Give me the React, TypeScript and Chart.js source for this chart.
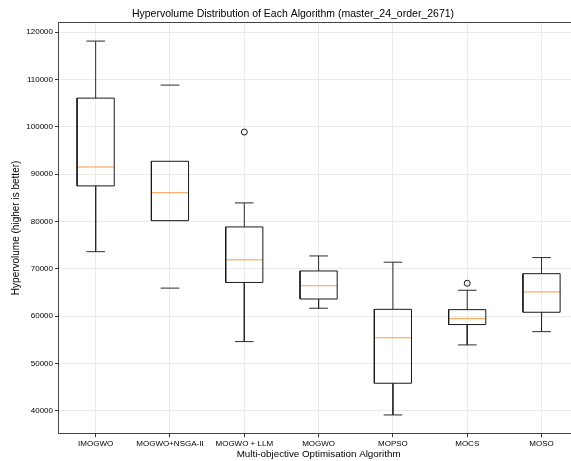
import React, { useEffect, useRef } from "react";
import { Chart, registerables } from "chart.js";

Chart.register(...registerables);

const categories = ["IMOGWO", "MOGWO+NSGA-II", "MOGWO + LLM", "MOGWO", "MOPSO", "MOCS", "MOSO"];
const whiskerLow = [73600, 65900, 54600, 61650, 39100, 53900, 56700];
const q1Values = [87500, 80150, 67100, 63600, 45800, 58200, 60800];
const medianValues = [91500, 86050, 71880, 66400, 55400, 59450, 65100];
const q3Values = [106050, 92700, 78830, 69530, 61420, 61350, 68950];
const whiskerHigh = [118100, 108800, 83910, 72700, 71380, 65450, 72350];
const showWhisker = [true, false, true, true, true, true, true];
const outlierCategory = [3, 6];
const outlierValues = [98880, 66930];
const yTicks = [40000, 50000, 60000, 70000, 80000, 90000, 100000, 110000, 120000];

const BOX_HALF = 0.25;
const CAP_HALF = 0.125;
const FONT = "'Liberation Sans', Arial, sans-serif";

type P = { x: number; y: number | null };

function buildBoxes(): P[] {
  const pts: P[] = [];
  categories.forEach((_, i) => {
    const c = i + 1;
    pts.push({ x: c - BOX_HALF, y: q1Values[i] });
    pts.push({ x: c + BOX_HALF, y: q1Values[i] });
    pts.push({ x: c + BOX_HALF, y: q3Values[i] });
    pts.push({ x: c - BOX_HALF, y: q3Values[i] });
    pts.push({ x: c - BOX_HALF, y: q1Values[i] });
    pts.push({ x: c, y: null });
  });
  return pts;
}

function buildWhiskers(): P[] {
  const pts: P[] = [];
  categories.forEach((_, i) => {
    const c = i + 1;
    if (showWhisker[i]) {
      pts.push({ x: c, y: q3Values[i] }, { x: c, y: whiskerHigh[i] }, { x: c, y: null });
      pts.push({ x: c, y: q1Values[i] }, { x: c, y: whiskerLow[i] }, { x: c, y: null });
    }
    pts.push({ x: c - CAP_HALF, y: whiskerHigh[i] }, { x: c + CAP_HALF, y: whiskerHigh[i] }, { x: c, y: null });
    pts.push({ x: c - CAP_HALF, y: whiskerLow[i] }, { x: c + CAP_HALF, y: whiskerLow[i] }, { x: c, y: null });
  });
  return pts;
}

function buildMedians(): P[] {
  const pts: P[] = [];
  categories.forEach((_, i) => {
    const c = i + 1;
    pts.push({ x: c - BOX_HALF, y: medianValues[i] }, { x: c + BOX_HALF, y: medianValues[i] }, { x: c, y: null });
  });
  return pts;
}

export default function App() {
  const ref = useRef<HTMLCanvasElement | null>(null);
  useEffect(() => {
    document.documentElement.style.overflow = "hidden";
    document.body.style.margin = "0";
    document.body.style.overflow = "hidden";
    const ctx = ref.current!.getContext("2d")!;
    const lineDs = (data: P[], color: string) => ({
      type: "scatter" as const,
      data,
      showLine: true,
      spanGaps: false,
      borderColor: color,
      borderWidth: 1,
      pointRadius: 0,
      pointHoverRadius: 0,
      tension: 0,
    });
    const chart = new Chart(ctx, {
      type: "scatter",
      data: {
        datasets: [
          lineDs(buildWhiskers(), "#2a2a2a") as any,
          lineDs(buildBoxes(), "#1a1a1a") as any,
          lineDs(buildMedians(), "#ff9a45") as any,
          {
            type: "scatter",
            data: outlierValues.map((v, k) => ({ x: outlierCategory[k], y: v })),
            pointRadius: 3,
            pointStyle: "circle",
            borderColor: "#111",
            borderWidth: 1,
            backgroundColor: "rgba(255,255,255,0)",
          } as any,
        ],
      },
      options: {
        responsive: false,
        animation: false,
        layout: { padding: { left: 0, right: 0, top: 0, bottom: 0 } },
        plugins: {
          legend: { display: false },
          tooltip: { enabled: false },
          title: {
            display: true,
            text: "Hypervolume Distribution of Each Algorithm (master_24_order_2671)",
            color: "#000",
            font: { family: FONT, size: 10.5, weight: "normal" },
            padding: { top: 8, bottom: 1.5 },
          },
        },
        scales: {
          x: {
            type: "linear",
            min: 0.5,
            max: 7.5,
            afterBuildTicks: (s: any) => {
              s.ticks = categories.map((_, i) => ({ value: i + 1 }));
            },
            afterFit: (s: any) => {
              s.height = 27.3;
            },
            ticks: {
              callback: (v: any) => categories[Math.round(Number(v)) - 1] ?? "",
              color: "#000",
              font: { family: FONT, size: 8 },
              padding: 1.5,
              maxRotation: 0,
              autoSkip: false,
            },
            grid: { color: "#ebebeb", tickColor: "#333", tickLength: 3.5, lineWidth: 1 },
            border: { color: "#444", width: 1 },
            title: {
              display: true,
              text: "Multi-objective Optimisation Algorithm",
              color: "#000",
              font: { family: FONT, size: 9.8 },
              padding: { top: 0, bottom: 1 },
            },
          },
          x2: {
            type: "linear",
            position: "top",
            min: 0.5,
            max: 7.5,
            afterFit: (s: any) => {
              s.height = 0;
            },
            ticks: { display: false },
            grid: { display: false, drawTicks: false },
            border: { display: true, color: "#444", width: 1 },
          },
          y: {
            type: "linear",
            min: 35137,
            max: 122114,
            afterBuildTicks: (s: any) => {
              s.ticks = yTicks.map((v) => ({ value: v }));
            },
            afterFit: (s: any) => {
              s.width = 58.5;
            },
            ticks: {
              callback: (v: any) => String(v),
              color: "#000",
              font: { family: FONT, size: 8 },
              padding: 2,
            },
            grid: { color: "#ebebeb", tickColor: "#333", tickLength: 3.5, lineWidth: 1 },
            border: { color: "#444", width: 1 },
            title: {
              display: true,
              text: "Hypervolume (higher is better)",
              color: "#000",
              font: { family: FONT, size: 10 },
              padding: { top: 10, bottom: 0 },
            },
          },
          y2: {
            type: "linear",
            position: "right",
            min: 35137,
            max: 122114,
            afterFit: (s: any) => {
              s.width = 7.3;
            },
            ticks: { display: false },
            grid: { display: false, drawTicks: false },
            border: { display: false },
          },
        },
      } as any,
    });
    return () => chart.destroy();
  }, []);
  return (
    <div style={{ width: 586, height: 461 }}>
      <canvas ref={ref} width={586} height={461} style={{ display: "block" }} />
    </div>
  );
}
